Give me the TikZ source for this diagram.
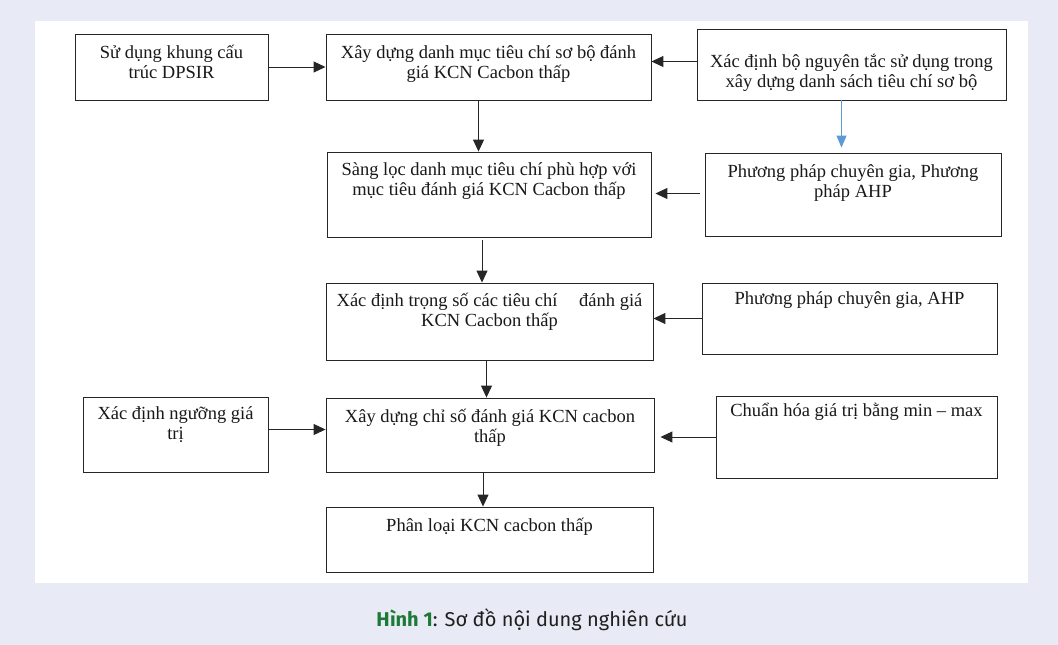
\documentclass[tikz,border=0pt]{standalone}
\usepackage{fontspec}
\setmainfont{Liberation Serif}
\newfontfamily\capfont{Fira Sans}
\usetikzlibrary{arrows.meta}
\definecolor{bgblue}{HTML}{E8EBF5}
\definecolor{figgreen}{HTML}{1C7A36}
\definecolor{arrblue}{HTML}{5B9BD5}
\tikzset{
  fbox/.style={draw=black!85, line width=0.9pt, fill=white, inner sep=0pt, rectangle},
  btext/.style={anchor=base, inner sep=0pt, align=center, font=\fontsize{18.5}{20}\selectfont, text=black!90},
  arr/.style={-{Triangle[length=12pt,width=11pt]}, line width=1pt, draw=black!85},
  barr/.style={-{Triangle[length=12pt,width=10pt]}, line width=0.9pt, draw=arrblue},
}
% name, x1, y1, x2, y2, baseline offset of last line, text
\newcommand{\flowbox}[7]{%
  \node[fbox, minimum width={#4pt-#2pt}, minimum height={#5pt-#3pt},
    label={[btext, yshift={-#6pt}]north:{#7}}] (#1) at ({(#2+#4)/2},{(#3+#5)/2}) {};}
\begin{document}
\begin{tikzpicture}[x=1pt, y=-1pt]
\useasboundingbox (0,0) rectangle (1058,645);
\fill[bgblue] (0,0) rectangle (1058,645);
\fill[white] (35,21) rectangle (1028,583);

\flowbox{A}{75}{34}{268}{100}{45}{Sử dụng khung cấu\\trúc DPSIR}
\flowbox{B}{326}{34}{651}{100}{45}{Xây dựng danh mục tiêu chí sơ bộ đánh\\giá KCN Cacbon thấp}
\flowbox{C}{697}{29}{1006}{100}{59}{Xác định bộ nguyên tắc sử dụng trong\\xây dựng danh sách tiêu chí sơ bộ}
\flowbox{D}{327}{152}{651}{237}{44}{Sàng lọc danh mục tiêu chí phù hợp với\\mục tiêu đánh giá KCN Cacbon thấp}
\flowbox{E}{705}{153}{1001}{236}{45}{Phương pháp chuyên gia, Phương\\pháp AHP}
\flowbox{F}{326}{283}{653}{360}{44}{Xác định trọng số các tiêu chí\hspace{17pt} đánh giá\\KCN Cacbon thấp}
\flowbox{G}{702}{283}{997}{354}{22}{Phương pháp chuyên gia, AHP}
\flowbox{H}{326}{398}{654}{472}{44.5}{Xây dựng chỉ số đánh giá KCN cacbon\\thấp}
\flowbox{I}{83}{397}{268}{472}{43}{Xác định ngưỡng giá\\trị}
\flowbox{J}{716}{396}{997}{478}{21}{Chuẩn hóa giá trị bằng min – max}
\flowbox{K}{326}{507}{653}{572}{25}{Phân loại KCN cacbon thấp}

% horizontal connectors
\draw[arr] (A.east) -- (B.west);
\draw[arr] ([yshift=3pt]C.west) -- ([yshift=3pt]C.west -| B.east);
\draw[arr, shorten <=5pt, shorten >=4pt] ([yshift=1pt]E.west) -- ([yshift=1pt]E.west -| D.east);
\draw[arr] (G.west) -- (G.west -| F.east);
\draw[arr] ([yshift=5pt]I.east) -- ([yshift=5pt]I.east -| H.west);
\draw[arr, shorten >=6pt] (J.west) -- (J.west -| H.east);

% vertical connectors
\draw[arr] ([xshift=-10pt]B.south) -- ([xshift=-10pt]B.south |- D.north);
\draw[arr, shorten <=3pt] ([xshift=-7pt]D.south) -- ([xshift=-7pt]D.south |- F.north);
\draw[arr] ([xshift=-3pt]F.south) -- ([xshift=-3pt]F.south |- H.north);
\draw[arr] ([xshift=-7pt]H.south) -- ([xshift=-7pt]H.south |- K.north);
\draw[barr, shorten >=5pt] ([xshift=-10pt]C.south) -- ([xshift=-10pt]C.south |- E.north);

% caption
\node[inner sep=0pt, text=black!88] (cap) at (532,620) {\capfont\fontsize{20}{22}\selectfont\textcolor{figgreen}{\bfseries Hình 1}: Sơ đồ nội dung nghiên cứu};
\end{tikzpicture}
\end{document}
